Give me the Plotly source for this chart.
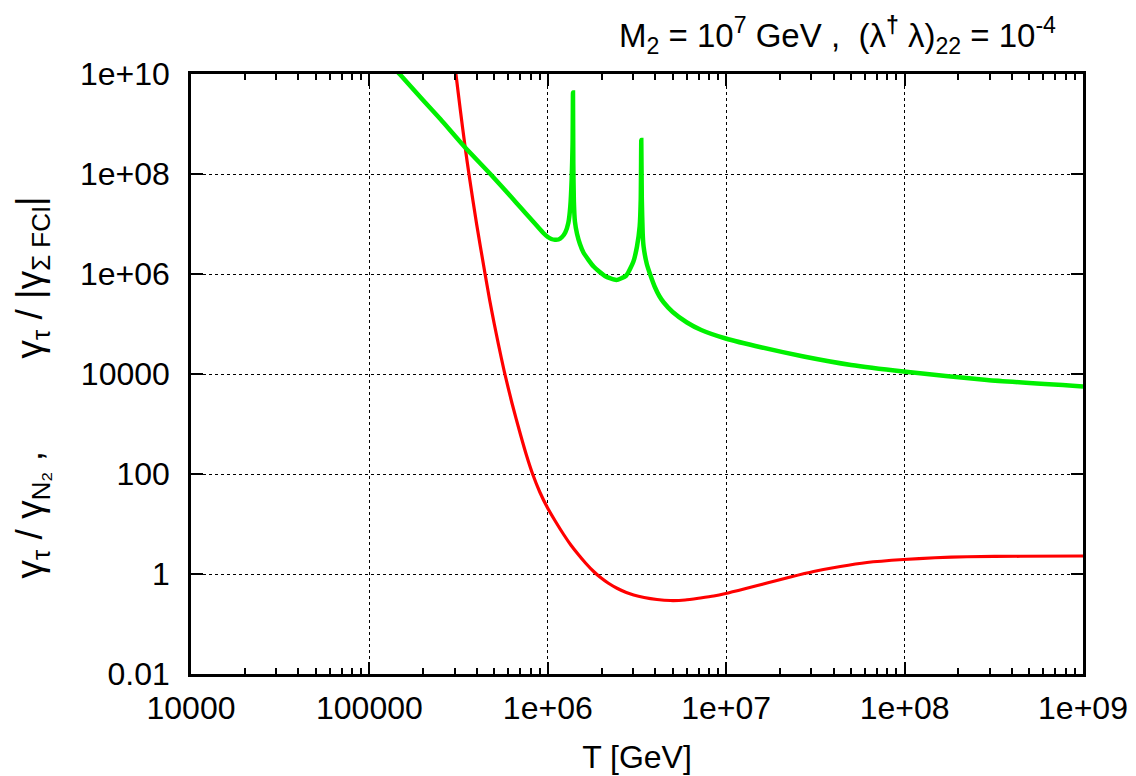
import plotly.graph_objects as go

# ---- data ----
red_T = [2.985e5, 3.055e5, 3.236e5, 3.443e5, 3.631e5, 3.981e5, 4.426e5, 4.721e5,
         5.012e5, 5.297e5, 5.702e5, 6.295e5, 7.015e5, 7.586e5, 8.222e5, 9.016e5,
         9.977e5, 1.109e6, 1.227e6, 1.349e6, 1.479e6, 1.622e6, 1.807e6, 1.968e6,
         2.188e6, 2.443e6, 2.754e6, 3.027e6, 3.467e6, 4.093e6, 4.864e6, 5.888e6,
         7.161e6, 8.511e6, 9.931e6, 1.288e7, 1.694e7, 2.291e7, 3.090e7, 4.365e7,
         6.152e7, 9.863e7, 1.479e8, 2.239e8, 4.467e8, 1.0e9]
red_v = [1.995e10, 1.0e10, 1.862e9, 3.388e8, 8.913e7, 1.047e7, 1.122e6, 3.020e5,
         1.0e5, 3.802e4, 1.122e4, 2630.0, 631.0, 239.9, 100.0, 43.65,
         20.89, 10.96, 6.166, 3.758, 2.483, 1.679, 1.122, 0.8610,
         0.6531, 0.5188, 0.4266, 0.3802, 0.3388, 0.3090, 0.2951, 0.3020,
         0.3311, 0.3631, 0.4074, 0.5129, 0.6607, 0.8710, 1.122, 1.413,
         1.698, 1.950, 2.113, 2.213, 2.265, 2.291]

green_T = [1.413e5, 1.476e5, 1.995e5, 2.512e5, 3.443e5, 4.764e5, 6.310e5, 7.079e5,
           7.943e5, 8.318e5, 8.913e5, 9.441e5, 1.0e6, 1.047e6, 1.096e6, 1.148e6,
           1.202e6, 1.253e6, 1.303e6, 1.337e6, 1.361e6, 1.377e6, 1.384e6, 1.390e6,
           1.400e6, 1.419e6, 1.459e6, 1.514e6, 1.589e6, 1.807e6, 2.089e6, 2.421e6,
           2.754e6, 3.020e6, 3.162e6, 3.273e6, 3.319e6, 3.342e6, 3.365e6, 3.404e6,
           3.443e6, 3.589e6, 3.758e6, 3.981e6, 4.217e6, 4.467e6, 5.012e6, 6.026e6,
           7.244e6, 9.931e6, 1.585e7, 2.716e7, 5.012e7, 9.863e7, 2.897e8, 1.0e9]
green_v = [1.175e10, 1.0e10, 3.020e9, 1.230e9, 3.388e8, 1.0e8, 3.311e7, 2.089e7,
           1.318e7, 1.096e7, 8.318e6, 6.607e6, 5.495e6, 5.012e6, 4.842e6, 4.898e6,
           5.495e6, 6.761e6, 1.047e7, 2.239e7, 7.943e7, 3.981e8, 4.266e9, 1.585e8,
           2.818e7, 1.122e7, 6.310e6, 3.981e6, 2.630e6, 1.413e6, 9.120e5, 7.586e5,
           9.333e5, 1.778e6, 3.548e6, 8.913e6, 3.162e7, 4.786e8, 3.162e7, 6.310e6,
           3.548e6, 1.585e6, 9.550e5, 5.495e5, 3.631e5, 2.692e5, 1.738e5, 1.072e5,
           7.586e4, 5.129e4, 3.388e4, 2.239e4, 1.514e4, 1.122e4, 7.586e3, 5.623e3]

x_tickvals = [1e4, 1e5, 1e6, 1e7, 1e8, 1e9]
x_ticktext = ["10000", "100000", "1e+06", "1e+07", "1e+08", "1e+09"]
x_minor = [m * 10 ** e for e in range(4, 9) for m in range(2, 10)]
y_tickvals = [1e-2, 1, 1e2, 1e4, 1e6, 1e8, 1e10]
y_ticktext = ["0.01", "1", "100", "10000", "1e+06", "1e+08", "1e+10"]

FONT = "Liberation Sans, Arial, Helvetica, sans-serif"
FS = 32

fig = go.Figure()
fig.add_trace(go.Scatter(x=red_T, y=red_v, mode="lines",
                         line=dict(color="#ff0000", width=3.2, shape="spline", smoothing=0.6),
                         showlegend=False))
fig.add_trace(go.Scatter(x=green_T, y=green_v, mode="lines",
                         line=dict(color="#00f000", width=4.5, shape="spline", smoothing=0.5),
                         showlegend=False))

axis_common = dict(
    type="log", showline=True, linecolor="black", linewidth=2.5, mirror="allticks",
    ticks="inside", ticklen=12, tickwidth=2, tickcolor="black",
    tickfont=dict(family=FONT, size=FS, color="black"),
    showgrid=True, gridcolor="black", gridwidth=1, griddash="dot", zeroline=False,
)

fig.update_xaxes(**axis_common, range=[4, 9], tickmode="array",
                 tickvals=x_tickvals, ticktext=x_ticktext, ticklabelstandoff=4,
                 minor=dict(tickmode="array", tickvals=x_minor, ticks="inside",
                            ticklen=6, tickwidth=2, tickcolor="black", showgrid=False),
                 title=dict(text="T [GeV]", font=dict(family=FONT, size=FS, color="black"),
                            standoff=21))
fig.update_yaxes(**axis_common, range=[-2, 10], tickmode="array",
                 tickvals=y_tickvals, ticktext=y_ticktext, ticklabelstandoff=12)

NB = "\u00a0"
fig.add_annotation(
    xref="paper", yref="paper", x=-0.178, y=0.478, textangle=-90, showarrow=False,
    xanchor="center", yanchor="middle",
    text="γ<sub>τ</sub> / γ<sub>N₂</sub> ," + NB * 9 + "γ<sub>τ</sub> / |γ<sub>Σ FCI</sub>|",
    font=dict(family=FONT, size=37, color="black"))

fig.add_annotation(
    xref="paper", yref="paper", x=0.972, y=1.065, showarrow=False,
    xanchor="right", yanchor="middle",
    text="M<sub>2</sub> = 10<sup>7</sup> GeV ," + NB * 2 + "(λ<sup><b>†</b></sup> λ)<sub>22</sub> = 10<sup>-4</sup>",
    font=dict(family=FONT, size=33, color="black"))

fig.update_layout(width=1136, height=776, autosize=False,
                  margin=dict(l=183, r=61, t=66, b=110),
                  paper_bgcolor="white", plot_bgcolor="white",
                  font=dict(family=FONT, color="black"))

fig.write_html("out.html")
